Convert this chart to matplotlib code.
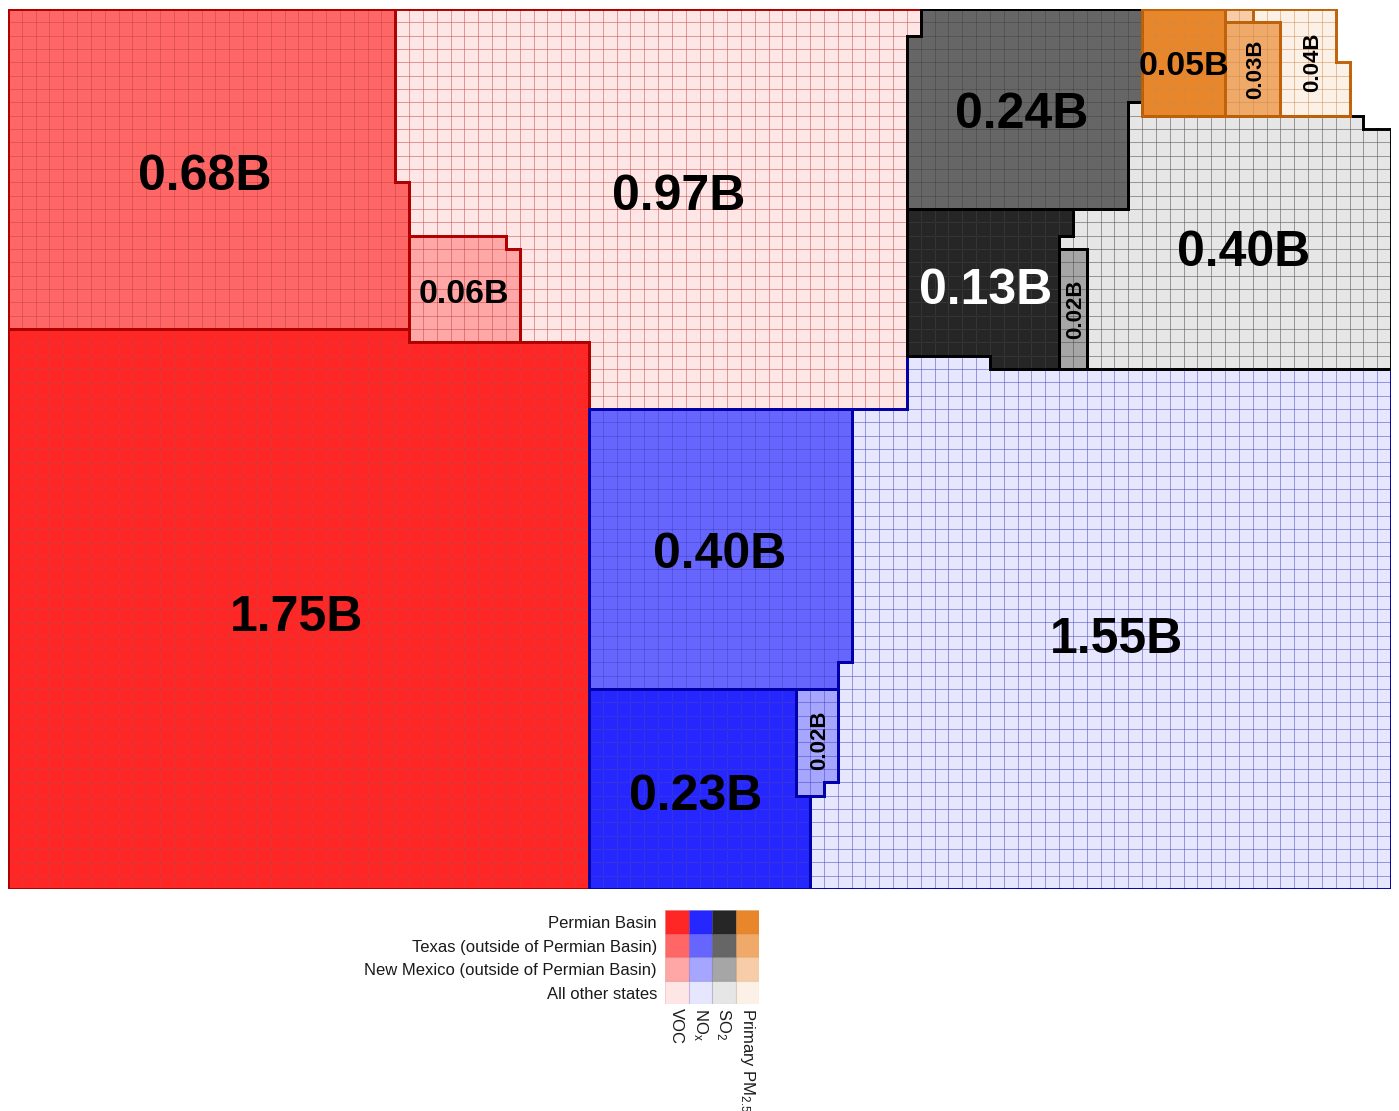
import numpy as np
import matplotlib.pyplot as plt
from matplotlib.collections import PolyCollection, LineCollection
from matplotlib.colors import to_rgb

plt.rcParams['font.family'] = ['Liberation Sans', 'DejaVu Sans']
plt.rcParams['mathtext.fontset'] = 'custom'
plt.rcParams['mathtext.rm'] = 'Liberation Sans'
plt.rcParams['mathtext.it'] = 'Liberation Sans:italic'
plt.rcParams['mathtext.bf'] = 'Liberation Sans:bold'

# === Data: health costs in billions, one grid cell = 0.001B ===
pollutants = ['VOC', 'NOx', 'SO2', 'PM2.5']
pollutant_labels = ['VOC', r'NO$_\mathrm{x}$', r'SO$_\mathrm{2}$', r'Primary PM$_\mathrm{2.5}$']
regions = ['Permian Basin', 'Texas (outside of Permian Basin)',
           'New Mexico (outside of Permian Basin)', 'All other states']
voc_values = [1.751, 0.683, 0.063, 0.967]
nox_values = [0.232, 0.397, 0.023, 1.547]
so2_values = [0.128, 0.245, 0.018, 0.400]
pm_values = [0.048, 0.028, 0.002, 0.038]

values = np.array([voc_values, nox_values, so2_values, pm_values])
counts = np.rint(values * 1000).astype(int)

# === Styles ===
base_colors = ['#FF0000', '#0000FF', '#000000', '#E47105']
line_colors = ['#B00000', '#0000AA', '#000000', '#C0620A']
region_alpha = [0.85, 0.6, 0.35, 0.1]


def blend(color, alpha):
    rgb = np.array(to_rgb(color))
    return tuple(alpha * rgb + (1 - alpha) * 1.0)


fill_colors = [[blend(base_colors[p], a) for a in region_alpha] for p in range(4)]

# === Waffle treemap layout ===
N_COLS = 100
N_ROWS = int(np.ceil(counts.sum() / N_COLS))

# (pollutant, region, col0, col1, row0, row1, fill order) - rows counted from the top
fill_plan = [
    (0, 0, 0, 42, 0, 66, 'row_up'),
    (0, 1, 0, 42, 0, 24, 'col_up'),
    (0, 2, 29, 42, 17, 25, 'col_up'),
    (0, 3, 28, 66, 0, 30, 'col_down'),
    (1, 1, 42, 100, 30, 51, 'col_down'),
    (1, 0, 42, 100, 51, 66, 'col_up'),
    (1, 2, 57, 100, 51, 59, 'col_down'),
    (1, 3, 42, 100, 0, 66, 'row_up'),
    (2, 1, 65, 100, 0, 15, 'col_down'),
    (2, 0, 65, 100, 15, 27, 'col_down'),
    (2, 2, 76, 100, 18, 27, 'col_down'),
    (3, 0, 82, 100, 0, 8, 'col_up'),
    (3, 2, 88, 100, 0, 1, 'row_up'),
    (3, 1, 88, 92, 1, 8, 'row_up'),
    (3, 3, 90, 97, 0, 8, 'col_up'),
    (2, 3, 76, 100, 9, 27, 'row_up'),
    (2, 3, 81, 98, 7, 9, 'col_up'),
]

grid = -np.ones((N_ROWS, N_COLS), dtype=int)
remaining = counts.copy()


def fill(code, n, c0, c1, r0, r1, order):
    if order == 'row_up':
        cells = [(r, c) for r in range(r1 - 1, r0 - 1, -1) for c in range(c0, c1)]
    elif order == 'col_up':
        cells = [(r, c) for c in range(c0, c1) for r in range(r1 - 1, r0 - 1, -1)]
    else:
        cells = [(r, c) for c in range(c0, c1) for r in range(r0, r1)]
    placed = 0
    for r, c in cells:
        if placed == n:
            break
        if grid[r, c] < 0:
            grid[r, c] = code
            placed += 1
    return placed


for p, reg, c0, c1, r0, r1, order in fill_plan:
    remaining[p, reg] -= fill(p * 4 + reg, remaining[p, reg], c0, c1, r0, r1, order)

# === Figure ===
W, H = 1399, 1111
fig = plt.figure(figsize=(W / 100, H / 100), dpi=100)
ax = fig.add_axes([8 / W, 222 / H, 1383 / W, 880 / H])
ax.set_xlim(0, N_COLS)
ax.set_ylim(N_ROWS, 0)
ax.axis('off')

# Cells
polys, fcs, ecs = [], [], []
for r in range(N_ROWS):
    for c in range(N_COLS):
        code = grid[r, c]
        if code < 0:
            continue
        p, reg = divmod(code, 4)
        polys.append([(c, r), (c + 1, r), (c + 1, r + 1), (c, r + 1)])
        fcs.append(fill_colors[p][reg])
        ecs.append((*to_rgb(line_colors[p]), 0.27))
ax.add_collection(PolyCollection(polys, facecolors=fcs, edgecolors=ecs, linewidths=0.7, zorder=1))

# Outlines of each block
for p in range(4):
    segs = []
    for r in range(N_ROWS):
        for c in range(N_COLS):
            code = grid[r, c]
            if code < 0 or code // 4 != p:
                continue

            def other(rr, cc):
                if rr < 0 or rr >= N_ROWS or cc < 0 or cc >= N_COLS:
                    return True
                return grid[rr, cc] != code

            if other(r - 1, c):
                segs.append([(c, r), (c + 1, r)])
            if other(r + 1, c):
                segs.append([(c, r + 1), (c + 1, r + 1)])
            if other(r, c - 1):
                segs.append([(c, r), (c, r + 1)])
            if other(r, c + 1):
                segs.append([(c + 1, r), (c + 1, r + 1)])
    lc = LineCollection(segs, colors=line_colors[p], linewidths=2.1, zorder=3 + p)
    lc.set_capstyle('projecting')
    ax.add_collection(lc)

# Value labels
for p in range(4):
    for reg in range(4):
        n = counts[p, reg]
        if n < 10:
            continue
        rr, cc = np.nonzero(grid == p * 4 + reg)
        cy, cx = rr.mean() + 0.5, cc.mean() + 0.5
        row_width = np.sum(grid[int(cy)] == p * 4 + reg)
        rgb = fill_colors[p][reg]
        lum = 0.299 * rgb[0] + 0.587 * rgb[1] + 0.114 * rgb[2]
        color = 'white' if lum < 0.2 else 'black'
        label = f'{values[p, reg]:.2f}B'
        if row_width >= 6:
            size = 36 if n >= 100 else 24.5
            ax.annotate(label, (cx, cy), xytext=(0, -0.13 * size), textcoords='offset points',
                        ha='center', va='center', fontsize=size,
                        fontweight='bold', color=color, zorder=10)
        else:
            ax.annotate(label, (cx, cy), xytext=(0.13 * 16, 0), textcoords='offset points',
                        ha='center', va='center', fontsize=16,
                        fontweight='bold', color=color, rotation=90, zorder=10)

# === Legend grid ===
lax = fig.add_axes([665 / W, (H - 1004) / H, 94 / W, 94 / H])
lax.set_xlim(0, 4)
lax.set_ylim(4, 0)
lax.axis('off')
lpolys, lfcs, lecs = [], [], []
for p in range(4):
    for reg in range(4):
        lpolys.append([(p, reg), (p + 1, reg), (p + 1, reg + 1), (p, reg + 1)])
        lfcs.append(fill_colors[p][reg])
        lecs.append((*to_rgb(line_colors[p]), 0.15))
lax.add_collection(PolyCollection(lpolys, facecolors=lfcs, edgecolors=lecs, linewidths=0.8))
for reg, name in enumerate(regions):
    lax.text(-0.34, reg + 0.58, name, ha='right', va='center', fontsize=12, color='#1a1a1a')
for p, name in enumerate(pollutant_labels):
    lax.text(p + 0.5, 4.17, name, ha='center', va='top', fontsize=12, color='#1a1a1a',
             rotation=270)

fig.savefig('out.png', dpi=100, facecolor='white')
